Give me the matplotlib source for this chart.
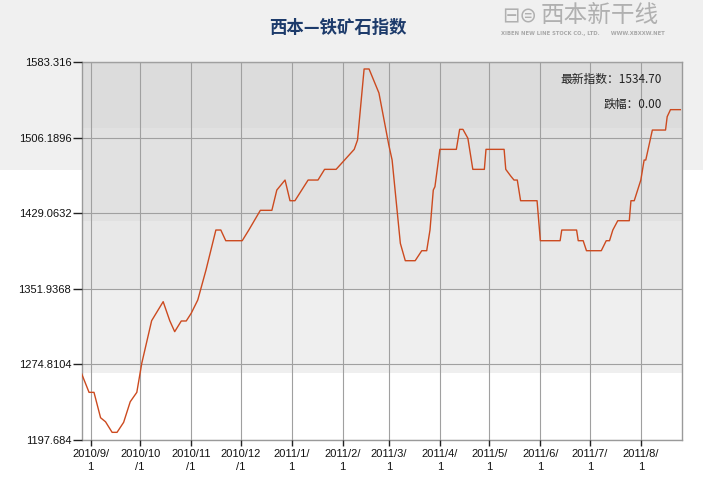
import matplotlib
matplotlib.use('Agg')
import matplotlib.pyplot as plt
import matplotlib.dates as mdates
from matplotlib.patches import Rectangle
import datetime as dt

plt.rcParams['font.family'] = ['Noto Sans CJK SC', 'DejaVu Sans']

# index readings (date, value)
dates = ["2010-08-26", "2010-08-31", "2010-09-03", "2010-09-07", "2010-09-10",
         "2010-09-14", "2010-09-17", "2010-09-21", "2010-09-25", "2010-09-29",
         "2010-10-02", "2010-10-08", "2010-10-15", "2010-10-19", "2010-10-22",
         "2010-10-26", "2010-10-29", "2010-11-01", "2010-11-05", "2010-11-10",
         "2010-11-16", "2010-11-19", "2010-11-22", "2010-12-02", "2010-12-06",
         "2010-12-13", "2010-12-20", "2010-12-23", "2010-12-28", "2010-12-31",
         "2011-01-03", "2011-01-11", "2011-01-17", "2011-01-21", "2011-01-28",
         "2011-02-08", "2011-02-10", "2011-02-14", "2011-02-17", "2011-02-23",
         "2011-03-01", "2011-03-03", "2011-03-06", "2011-03-08", "2011-03-11",
         "2011-03-17", "2011-03-21", "2011-03-24", "2011-03-26", "2011-03-28",
         "2011-03-29", "2011-04-01", "2011-04-11", "2011-04-13", "2011-04-15",
         "2011-04-18", "2011-04-21", "2011-04-28", "2011-04-29", "2011-05-10",
         "2011-05-11", "2011-05-14", "2011-05-16", "2011-05-18", "2011-05-20",
         "2011-05-30", "2011-06-01", "2011-06-13", "2011-06-14", "2011-06-23",
         "2011-06-24", "2011-06-27", "2011-06-29", "2011-07-08", "2011-07-11",
         "2011-07-13", "2011-07-15", "2011-07-18", "2011-07-25", "2011-07-26",
         "2011-07-28", "2011-08-01", "2011-08-03", "2011-08-04", "2011-08-08",
         "2011-08-16", "2011-08-17", "2011-08-19", "2011-08-25"]
values = [1267.4, 1246.3, 1246.3, 1220.4, 1216.3,
          1205.5, 1205.5, 1215.7, 1236.7, 1246.3,
          1275.9, 1319.4, 1338.8, 1319.4, 1308.2,
          1319.1, 1319.1, 1326.9, 1340.5, 1371.1,
          1411.9, 1411.9, 1401.0, 1401.0, 1411.9,
          1432.0, 1432.0, 1452.7, 1462.9, 1441.8,
          1441.8, 1462.9, 1462.9, 1473.8, 1473.8,
          1494.2, 1503.7, 1576.2, 1576.2, 1551.7,
          1498.6, 1483.3, 1432.3, 1398.3, 1380.6,
          1380.6, 1390.8, 1390.8, 1411.9, 1452.7,
          1456.1, 1494.2, 1494.2, 1514.6, 1514.6,
          1505.5, 1473.8, 1473.8, 1494.2, 1494.2,
          1473.8, 1467.0, 1462.9, 1462.9, 1441.8,
          1441.8, 1401.0, 1401.0, 1411.9, 1411.9,
          1401.0, 1401.0, 1390.8, 1390.8, 1401.0,
          1401.0, 1411.9, 1421.4, 1421.4, 1441.8,
          1441.8, 1462.9, 1483.3, 1483.3, 1513.9,
          1513.9, 1527.5, 1534.7, 1534.7]

y_ticks = [1197.684, 1274.8104, 1351.9368, 1429.0632, 1506.1896, 1583.316]
y_labels = ["1197.684", "1274.8104", "1351.9368", "1429.0632", "1506.1896", "1583.316"]
x_ticks = ["2010-09-01", "2010-10-01", "2010-11-01", "2010-12-01", "2011-01-01", "2011-02-01",
           "2011-03-01", "2011-04-01", "2011-05-01", "2011-06-01", "2011-07-01", "2011-08-01"]
x_labels = ["2010/9/\n1", "2010/10\n/1", "2010/11\n/1", "2010/12\n/1", "2011/1/\n1", "2011/2/\n1",
            "2011/3/\n1", "2011/4/\n1", "2011/5/\n1", "2011/6/\n1", "2011/7/\n1", "2011/8/\n1"]

# background bands inside the plot (lower, upper, colour)
band_lo = [1266.0, 1351.0, 1421.0, 1516.0]
band_hi = [1351.0, 1421.0, 1516.0, 1583.316]
band_col = ['#efefef', '#e8e8e8', '#e1e1e1', '#dcdcdc']

to_num = lambda s: mdates.date2num(dt.datetime.strptime(s, "%Y-%m-%d"))
xs = [to_num(d) for d in dates]

fig = plt.figure(figsize=(7.03, 4.93), dpi=100)
fig.patch.set_facecolor('white')
fig.patches.append(Rectangle((0, 1 - 170 / 493), 1, 170 / 493, transform=fig.transFigure,
                             facecolor='#f0f0f0', edgecolor='none', zorder=-10))

ax = fig.add_axes([81.7 / 703, 1 - 440 / 493, (682 - 81.7) / 703, (440 - 62) / 493])
ax.set_facecolor('white')
for lo, hi, c in zip(band_lo, band_hi, band_col):
    ax.axhspan(lo, hi, color=c, zorder=0, lw=0)

ax.plot(xs, values, color='#cc4a1f', lw=1.0, zorder=3)

start = to_num("2010-09-01")
ax.set_xlim(start - 5.46, start + 359.0)
ax.set_ylim(1197.684, 1583.316)

ax.set_yticks(y_ticks)
ax.set_yticklabels(y_labels, family='Liberation Sans', fontsize=8, color='#111111')
ax.set_xticks([to_num(d) for d in x_ticks])
ax.set_xticklabels(x_labels, family='Liberation Sans', fontsize=8, color='#111111',
                   linespacing=1.4)
ax.tick_params(axis='y', length=6.5, width=1, color='#222222', pad=1)
ax.tick_params(axis='x', length=4.5, width=1, color='#222222', pad=2)
ax.grid(True, color='#a0a0a0', lw=0.8, zorder=1)
ax.set_axisbelow(False)
for sp in ax.spines.values():
    sp.set_color('#9a9a9a')
    sp.set_linewidth(1)

ax.text(0.9665, 0.955, "最新指数：1534.70", transform=ax.transAxes, ha='right', va='center',
        fontsize=8.5, color='#222222')
ax.text(0.9665, 0.888, "跌幅：0.00", transform=ax.transAxes, ha='right', va='center',
        fontsize=8.5, color='#222222')

fig.text(338 / 703, 1 - 28 / 493, "西本—铁矿石指数", ha='center', va='center',
         fontsize=12.5, fontweight='bold', color='#1d3b6b')
# logo, drawn as text
fig.text(600 / 703, 1 - 16 / 493, "西本新干线", ha='center', va='center',
         fontsize=17, style='italic', color='#b0b0b0')
fig.text(520 / 703, 1 - 16 / 493, "⊟⊜", ha='center', va='center',
         fontsize=15, color='#b0b0b0', family='DejaVu Sans')
fig.text(583 / 703, 1 - 34 / 493, "XIBEN NEW LINE STOCK CO., LTD.      WWW.XBXXW.NET", ha='center',
         va='center', fontsize=3.8, color='#a8a8a8', family='DejaVu Sans', fontweight='bold')

fig.savefig('out.png', dpi=100)
